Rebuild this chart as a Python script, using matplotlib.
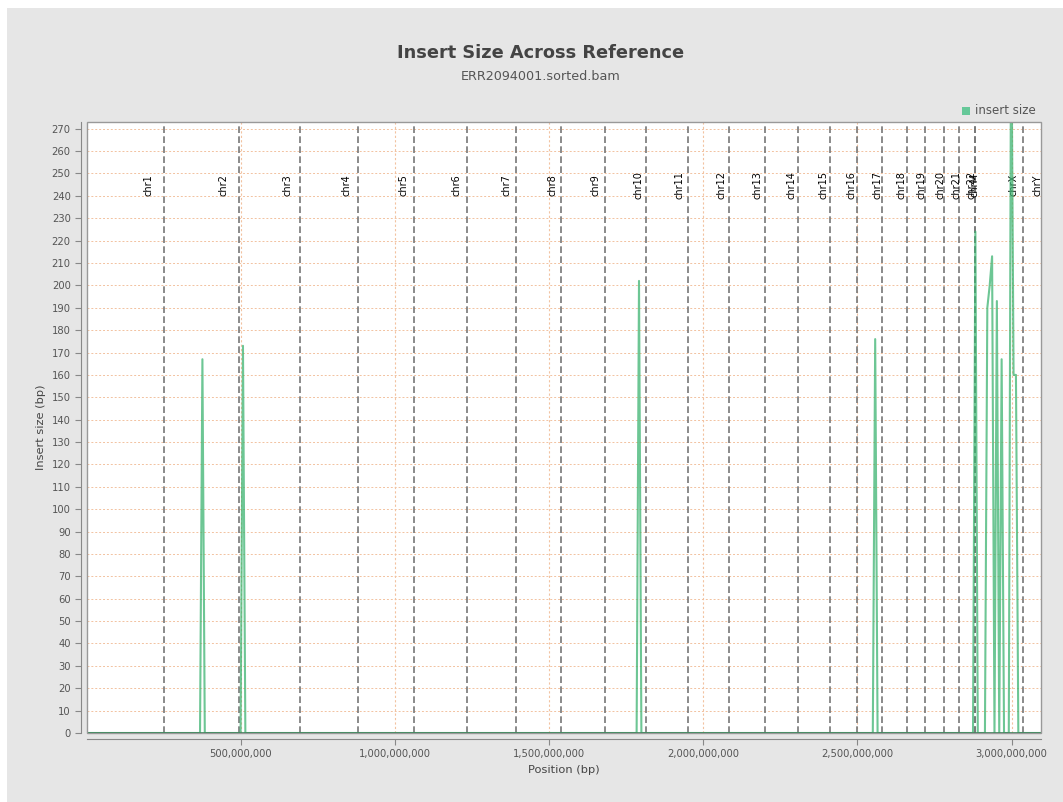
import numpy as np
import matplotlib
matplotlib.use('Agg')
import matplotlib.pyplot as plt
from matplotlib.patches import Rectangle
from matplotlib.ticker import FuncFormatter, MultipleLocator
import matplotlib.transforms as mtrans

# chromosomes (hg19 order as in the report)
chrom_names = ['chr1', 'chr2', 'chr3', 'chr4', 'chr5', 'chr6', 'chr7', 'chr8',
               'chr9', 'chr10', 'chr11', 'chr12', 'chr13', 'chr14', 'chr15',
               'chr16', 'chr17', 'chr18', 'chr19', 'chr20', 'chr21', 'chr22',
               'chrM', 'chrX', 'chrY']
chrom_lengths = [249250621, 243199373, 198022430, 191154276, 180915260,
                 171115067, 159138663, 146364022, 141213431, 135534747,
                 135006516, 133851895, 115169878, 107349540, 102531392,
                 90354753, 81195210, 78077248, 59128983, 63025520,
                 48129895, 51304566, 16571, 155270560, 59373566]

# insert size per window (400 windows), only non-empty windows listed
n_windows = 400
peak_windows = [48, 65, 231, 330, 372, 377, 378, 379, 381, 383, 387, 388, 389]
peak_values  = [167, 173, 202, 176, 224, 190, 200, 213, 193, 167, 330, 160, 160]

x_ticks = [500000000, 1000000000, 1500000000, 2000000000, 2500000000, 3000000000]

# labels
title    = 'Insert Size Across Reference'
subtitle = 'ERR2094001.sorted.bam'
xlabel   = 'Position (bp)'
ylabel   = 'Insert size (bp)'

genome_len = sum(chrom_lengths)
win = genome_len / n_windows
pos = (np.arange(n_windows) + 0.5) * win
vals = np.zeros(n_windows)
vals[peak_windows] = peak_values

ends = np.cumsum(chrom_lengths)
starts = ends - np.array(chrom_lengths)

W, H = 1063, 802
fig = plt.figure(figsize=(W / 100, H / 100), dpi=100)
fig.patch.set_facecolor('white')
fig.patches.append(Rectangle((7 / W, 0), 1 - 7 / W, (H - 8) / H, transform=fig.transFigure,
                             facecolor='#e6e6e6', edgecolor='none', zorder=-10))

ax = fig.add_axes([86.7 / W, (H - 733) / H, (1041 - 86.7) / W, (733 - 122) / H])
ax.set_facecolor('white')

# grid
for y in np.arange(10, 280, 10):
    ax.axhline(y, color='#f2c2a0', lw=0.7, dashes=(2, 2), zorder=1)
for xt in x_ticks:
    ax.axvline(xt, color='#f2c2a0', lw=0.8, dashes=(2, 2), zorder=1)

# chromosome boundaries
for e in ends[:-1]:
    ax.axvline(e, color='#777777', lw=1.2, dashes=(4, 2), zorder=2)
lab_tr = mtrans.blended_transform_factory(ax.transData, ax.transAxes)
for name, s, l in zip(chrom_names, starts, chrom_lengths):
    ax.text(s + 0.8 * l, 0.897, name, rotation=90, ha='center', va='center',
            fontsize=7, color='black', transform=lab_tr, zorder=3)

ax.plot(pos, vals, color='#3cb371', lw=1.5, alpha=0.75, zorder=4, label='insert size')
ax.axhline(0, color='#2e7d4f', lw=1.2, zorder=4)

ax.set_xlim(0, genome_len)
ax.set_ylim(0, 273)
ax.set_xticks(x_ticks)
ax.xaxis.set_major_formatter(FuncFormatter(lambda v, p: '{:,.0f}'.format(v)))
ax.yaxis.set_major_locator(MultipleLocator(10))

for side in ['top', 'right']:
    ax.spines[side].set_visible(False)
for side in ['left', 'bottom']:
    ax.spines[side].set_position(('outward', 4))
    ax.spines[side].set_color('#888888')
ax.add_patch(Rectangle((0, 0), 1, 1, transform=ax.transAxes, fill=False,
                       edgecolor='#999999', lw=1.0, clip_on=False, zorder=5))
ax.tick_params(colors='#888888', labelcolor='#555555', labelsize=7.2, length=4, width=0.8)

ax.set_xlabel(xlabel, fontsize=8.2, color='#444444', labelpad=4)
ax.set_ylabel(ylabel, fontsize=8.2, color='#444444', labelpad=4)

fig.text(541 / W, 1 - 58 / H, title, ha='center', va='baseline', fontsize=12.8,
         fontweight='bold', color='#444444')
fig.text(541 / W, 1 - 80 / H, subtitle, ha='center', va='baseline', fontsize=9.2,
         color='#555555')

# legend
fig.patches.append(Rectangle((962 / W, 1 - 115 / H), 8 / W, 8 / H, transform=fig.transFigure,
                             facecolor='#66c899', edgecolor='none'))
fig.text(975 / W, 1 - 111 / H, 'insert size', ha='left', va='center', fontsize=8.5,
         color='#555555')

fig.savefig('out.png', dpi=100, facecolor=fig.get_facecolor())
